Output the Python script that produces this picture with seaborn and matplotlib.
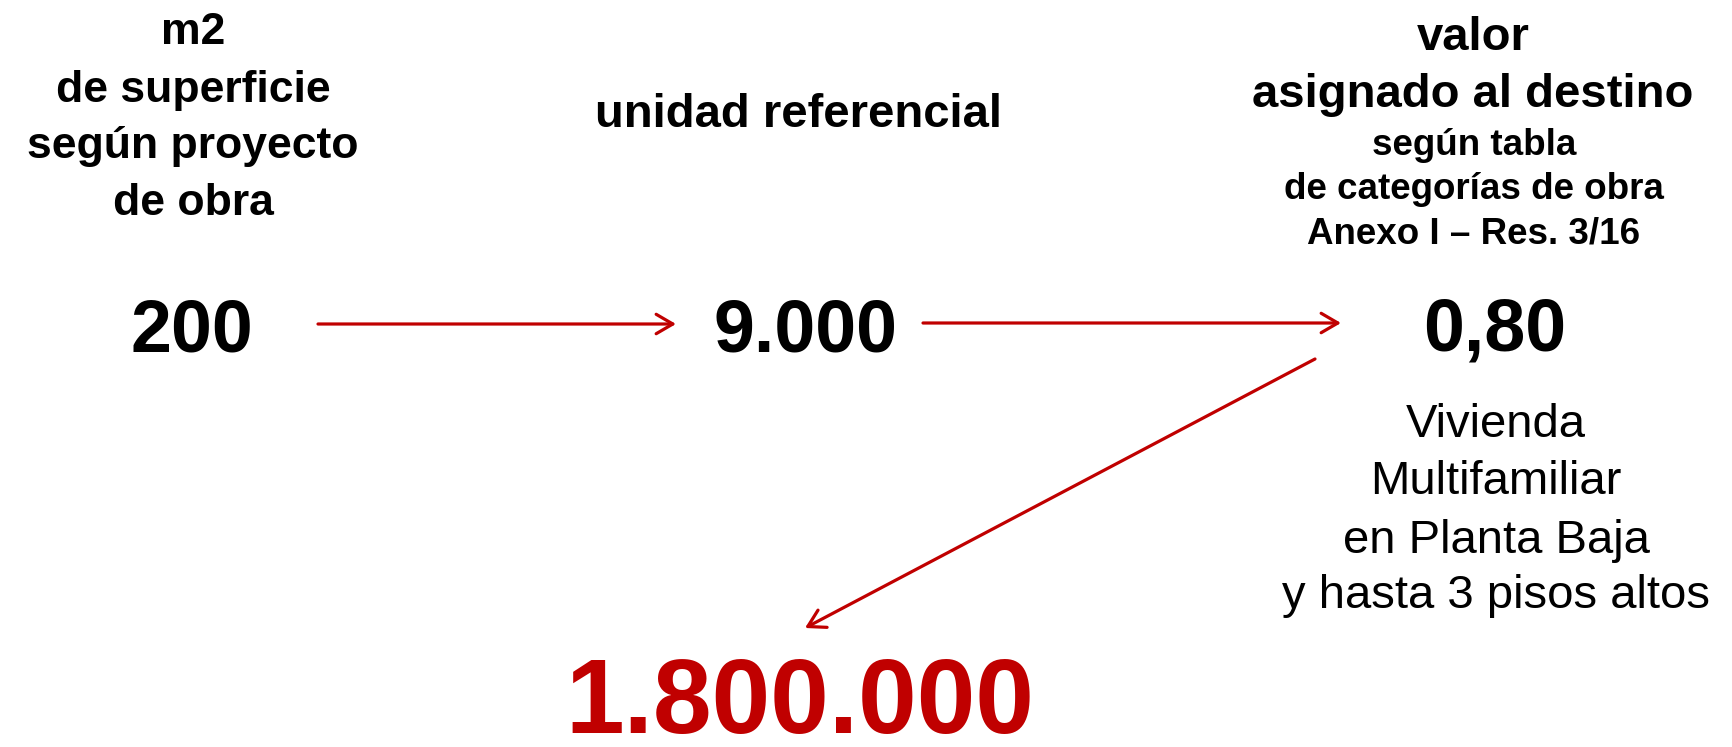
import matplotlib
matplotlib.use("Agg")
import matplotlib.pyplot as plt
import seaborn as sns

# datos del cálculo
col1_header = ["m2", "de superficie", "según proyecto", "de obra"]
col2_header = ["unidad referencial"]
col3_header = ["valor", "asignado al destino"]
col3_sub = ["según tabla", "de categorías de obra", "Anexo I – Res. 3/16"]
destino = ["Vivienda", "Multifamiliar", "en Planta Baja", "y hasta 3 pisos altos"]
valores = ["200", "9.000", "0,80"]
resultado = "1.800.000"

rojo = "#C00000"

sns.set_theme(style="white")
plt.rcParams["font.family"] = ["Liberation Sans", "DejaVu Sans"]
plt.rcParams["text.color"] = "black"

fig = plt.figure(figsize=(17.33, 7.47), dpi=100)
ax = fig.add_axes([0, 0, 1, 1])
ax.set_xlim(0, 1733)
ax.set_ylim(747, 0)
ax.axis("off")

# columna 1
for y, t in zip([44, 102, 158, 215], col1_header):
    ax.text(193, y, t, ha="center", va="baseline", fontsize=32, fontweight="bold")

# columna 2
ax.text(799, 127, col2_header[0], ha="center", va="baseline", fontsize=34, fontweight="bold")

# columna 3
for y, t in zip([50, 107], col3_header):
    ax.text(1473, y, t, ha="center", va="baseline", fontsize=34, fontweight="bold")
for y, t in zip([155, 199, 243], col3_sub):
    ax.text(1474, y, t, ha="center", va="baseline", fontsize=26.5, fontweight="bold")
for y, t in zip([437, 494, 553, 608], destino):
    ax.text(1496, y, t, ha="center", va="baseline", fontsize=34)

# números
for x, t in zip([192, 806, 1495], valores):
    ax.text(x, 351, t, ha="center", va="baseline", fontsize=53, fontweight="bold")
ax.text(800, 733, resultado, ha="center", va="baseline", fontsize=76,
        fontweight="bold", color=rojo)

# flechas
flechas = [((318, 324), (676, 324)), ((923, 323), (1341, 323)), ((1315, 359), (805, 628))]
for ini, fin in flechas:
    ax.annotate("", xy=fin, xytext=ini,
                arrowprops=dict(arrowstyle="->,head_length=0.6,head_width=0.35",
                                color=rojo, lw=2.3, mutation_scale=20,
                                shrinkA=0, shrinkB=0))

fig.savefig("out.png", dpi=100, facecolor="white")
